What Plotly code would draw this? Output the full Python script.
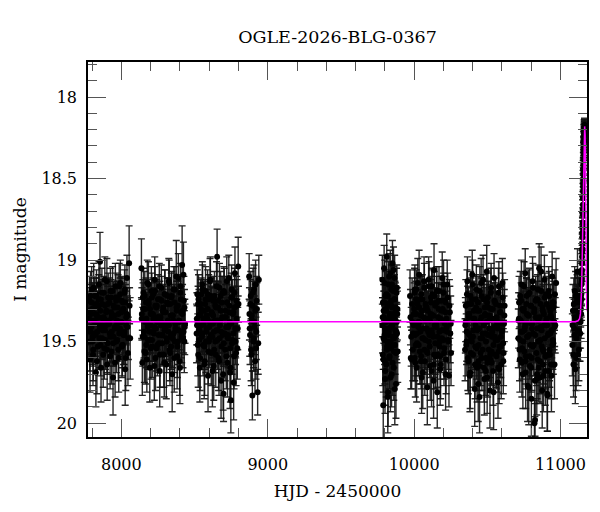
import plotly.graph_objects as go

# ---- photometry, season by season (HJD-2450000, I mag, error) ----
s1_t = [7777, 7782, 7786, 7793, 7797, 7804, 7808, 7815, 7819, 7826, 7830, 7836, 7843, 7847, 7854, 7858, 7865, 7869, 7876, 7881,
        7887, 7892, 7898, 7903, 7910, 7914, 7921, 7925, 7932, 7937, 7943, 7948, 7955, 7959, 7966, 7970, 7977, 7982, 7988, 7993,
        7999, 8004, 8011, 8015, 8022, 8026, 8033, 8038, 8045, 8053, 8060,
        7779, 7784, 7790, 7795, 7800, 7806, 7811, 7817, 7822, 7828, 7833, 7839, 7845, 7850, 7856, 7861, 7867, 7873, 7878, 7884,
        7890, 7895, 7901, 7906, 7912, 7918, 7923, 7929, 7934, 7940, 7946, 7951, 7957, 7963, 7968, 7974, 7979, 7985, 7991, 7996,
        8002, 8007, 8013, 8019, 8024, 8030, 8036, 8042]
s1_m = [19.42, 19.25, 19.61, 19.33, 19.18, 19.47, 19.55, 19.29, 19.38, 19.69, 19.21, 19.44, 19.35, 19.15, 19.01, 19.52, 19.40,
        19.27, 19.58, 19.36, 19.12, 19.49, 19.31, 19.64, 19.23, 19.39, 19.45, 19.19, 19.56, 19.34, 19.72, 19.28, 19.41, 19.16,
        19.50, 19.37, 19.24, 19.60, 19.43, 19.14, 19.32, 19.53, 19.26, 19.46, 19.20, 19.67, 19.35, 19.11, 19.57, 19.02, 19.48,
        19.36, 19.50, 19.22, 19.41, 19.30, 19.58, 19.17, 19.45, 19.33, 19.27, 19.62, 19.39, 19.24, 19.48, 19.31, 19.66, 19.20,
        19.43, 19.35, 19.54, 19.28, 19.40, 19.13, 19.51, 19.37, 19.26, 19.59, 19.32, 19.44, 19.19, 19.47, 19.34, 19.63, 19.23,
        19.40, 19.29, 19.55, 19.16, 19.42, 19.38, 19.25, 19.52, 19.30, 19.46, 19.18, 19.60, 19.33, 19.41]
s1_e = [0.17, 0.15, 0.20, 0.16, 0.14, 0.18, 0.19, 0.15, 0.17, 0.21, 0.15, 0.18, 0.16, 0.14, 0.18, 0.19, 0.17, 0.15, 0.20, 0.16,
        0.14, 0.18, 0.16, 0.22, 0.15, 0.17, 0.18, 0.14, 0.20, 0.16, 0.23, 0.15, 0.17, 0.14, 0.19, 0.16, 0.15, 0.21, 0.18, 0.14,
        0.16, 0.19, 0.15, 0.18, 0.14, 0.22, 0.16, 0.14, 0.20, 0.23, 0.25,
        0.16, 0.18, 0.15, 0.17, 0.16, 0.19, 0.15, 0.18, 0.16, 0.16, 0.20, 0.17, 0.15, 0.18, 0.16, 0.21, 0.15, 0.17, 0.16, 0.19,
        0.16, 0.17, 0.14, 0.19, 0.17, 0.15, 0.20, 0.16, 0.18, 0.15, 0.18, 0.16, 0.21, 0.15, 0.17, 0.16, 0.19, 0.14, 0.17, 0.17,
        0.15, 0.19, 0.16, 0.18, 0.15, 0.20, 0.16, 0.17]
s1c_t = [7780, 7788, 7796, 7802, 7810, 7818, 7824, 7832, 7840, 7846, 7852, 7860, 7868, 7874, 7880, 7888, 7896, 7902, 7908, 7916,
         7924, 7930, 7936, 7944, 7952, 7958, 7964, 7972, 7980, 7986, 7992, 8000, 8008, 8014, 8020, 8028, 8034, 8041, 8048, 8056]
s1c_m = [19.31, 19.44, 19.26, 19.50, 19.37, 19.22, 19.46, 19.34, 19.53, 19.28, 19.41, 19.24, 19.48, 19.36, 19.20, 19.43, 19.32,
         19.55, 19.27, 19.39, 19.47, 19.23, 19.35, 19.51, 19.29, 19.42, 19.25, 19.49, 19.33, 19.45, 19.21, 19.38, 19.52, 19.30,
         19.44, 19.26, 19.40, 19.34, 19.48, 19.28]
s1c_e = [0.12, 0.13, 0.11, 0.14, 0.12, 0.11, 0.13, 0.12, 0.14, 0.11, 0.12, 0.11, 0.13, 0.12, 0.10, 0.13, 0.12, 0.14, 0.11, 0.12,
         0.13, 0.11, 0.12, 0.14, 0.11, 0.13, 0.11, 0.13, 0.12, 0.13, 0.10, 0.12, 0.14, 0.11, 0.13, 0.11, 0.12, 0.12, 0.13, 0.11]

s2_t = [8137, 8143, 8148, 8154, 8160, 8165, 8171, 8177, 8182, 8188, 8194, 8199, 8205, 8211, 8216, 8222, 8228, 8233, 8239, 8245,
        8250, 8256, 8262, 8267, 8273, 8279, 8284, 8290, 8296, 8301, 8307, 8313, 8318, 8324, 8330, 8335, 8341, 8347, 8352, 8358,
        8364, 8369, 8375, 8381, 8386, 8392, 8398, 8403, 8409, 8415, 8421, 8427, 8433,
        8140, 8146, 8151, 8157, 8163, 8168, 8174, 8180, 8185, 8191, 8196, 8202, 8208, 8213, 8219, 8225, 8230, 8236, 8242, 8247,
        8253, 8259, 8264, 8270, 8276, 8281, 8287, 8293, 8298, 8304, 8310, 8315, 8321, 8327, 8332, 8338, 8344, 8349, 8355, 8361,
        8366, 8372, 8378, 8383, 8389, 8395, 8400, 8406, 8412, 8418, 8424, 8430]
s2_m = [19.05, 19.63, 19.30, 19.44, 19.22, 19.57, 19.36, 19.14, 19.49, 19.27, 19.66, 19.40, 19.19, 19.53, 19.33, 19.45, 19.12,
        19.60, 19.29, 19.38, 19.24, 19.51, 19.68, 19.35, 19.17, 19.46, 19.31, 19.58, 19.21, 19.42, 19.64, 19.26, 19.37, 19.13,
        19.55, 19.47, 19.23, 19.70, 19.34, 19.18, 19.50, 19.39, 19.10, 19.59, 19.28, 19.43, 19.62, 19.16, 19.32, 19.03, 19.48,
        19.25, 19.41,
        19.33, 19.47, 19.20, 19.56, 19.38, 19.26, 19.61, 19.41, 19.15, 19.49, 19.30, 19.54, 19.23, 19.44, 19.36, 19.65, 19.19,
        19.42, 19.28, 19.52, 19.35, 19.16, 19.58, 19.40, 19.25, 19.46, 19.32, 19.63, 19.21, 19.39, 19.50, 19.27, 19.44, 19.14,
        19.57, 19.34, 19.22, 19.48, 19.37, 19.60, 19.18, 19.43, 19.29, 19.53, 19.11, 19.38, 19.66, 19.24, 19.45, 19.31, 19.09,
        19.50]
s2_e = [0.18, 0.20, 0.16, 0.17, 0.15, 0.19, 0.16, 0.14, 0.18, 0.15, 0.21, 0.17, 0.15, 0.19, 0.16, 0.17, 0.14, 0.20, 0.15, 0.17,
        0.15, 0.18, 0.22, 0.16, 0.14, 0.18, 0.16, 0.20, 0.15, 0.17, 0.21, 0.15, 0.16, 0.14, 0.19, 0.18, 0.15, 0.23, 0.16, 0.14,
        0.19, 0.17, 0.22, 0.20, 0.15, 0.18, 0.21, 0.14, 0.16, 0.24, 0.18, 0.15, 0.17,
        0.16, 0.18, 0.15, 0.19, 0.17, 0.15, 0.20, 0.17, 0.14, 0.18, 0.16, 0.19, 0.15, 0.18, 0.16, 0.21, 0.15, 0.17, 0.16, 0.19,
        0.16, 0.14, 0.20, 0.17, 0.15, 0.18, 0.16, 0.21, 0.15, 0.17, 0.19, 0.16, 0.18, 0.14, 0.20, 0.16, 0.15, 0.18, 0.17, 0.21,
        0.14, 0.18, 0.16, 0.19, 0.15, 0.17, 0.22, 0.15, 0.18, 0.16, 0.20, 0.19]
s2c_t = [8139, 8147, 8155, 8162, 8170, 8178, 8186, 8193, 8201, 8209, 8217, 8224, 8232, 8240, 8248, 8255, 8263, 8271, 8278, 8286,
         8294, 8302, 8309, 8317, 8325, 8333, 8340, 8348, 8356, 8363, 8371, 8379, 8387, 8394, 8402, 8410, 8417, 8425, 8431, 8435]
s2c_m = [19.36, 19.23, 19.47, 19.30, 19.52, 19.39, 19.25, 19.44, 19.33, 19.49, 19.21, 19.41, 19.28, 19.54, 19.35, 19.46, 19.24,
         19.38, 19.51, 19.29, 19.43, 19.32, 19.48, 19.22, 19.40, 19.27, 19.53, 19.34, 19.45, 19.26, 19.42, 19.31, 19.50, 19.37,
         19.20, 19.47, 19.33, 19.44, 19.29, 19.39]
s2c_e = [0.12, 0.11, 0.13, 0.12, 0.14, 0.12, 0.11, 0.13, 0.12, 0.13, 0.10, 0.12, 0.11, 0.14, 0.12, 0.13, 0.11, 0.12, 0.14, 0.11,
         0.13, 0.12, 0.13, 0.11, 0.12, 0.11, 0.14, 0.12, 0.13, 0.11, 0.12, 0.12, 0.14, 0.12, 0.10, 0.13, 0.12, 0.13, 0.11, 0.12]

s3_t = [8514, 8519, 8525, 8530, 8536, 8541, 8547, 8553, 8558, 8564, 8569, 8575, 8580, 8586, 8592, 8597, 8603, 8608, 8614, 8619,
        8625, 8631, 8636, 8642, 8647, 8654, 8659, 8664, 8670, 8675, 8681, 8686, 8692, 8698, 8703, 8709, 8714, 8720, 8725, 8731,
        8737, 8742, 8748, 8753, 8759, 8764, 8770, 8776, 8781, 8787, 8792, 8798,
        8516, 8522, 8527, 8533, 8538, 8544, 8550, 8555, 8561, 8566, 8572, 8578, 8583, 8589, 8594, 8600, 8606, 8611, 8617, 8622,
        8628, 8633, 8639, 8645, 8650, 8656, 8661, 8667, 8673, 8678, 8684, 8689, 8695, 8700, 8706, 8712, 8717, 8723, 8728, 8734,
        8740, 8745, 8751, 8756, 8762, 8767, 8773, 8779, 8784, 8790]
s3_m = [19.45, 19.21, 19.58, 19.34, 19.66, 19.27, 19.40, 19.15, 19.52, 19.31, 19.62, 19.19, 19.44, 19.36, 19.71, 19.24, 19.48,
        19.12, 19.57, 19.33, 19.39, 19.65, 19.22, 19.50, 19.29, 18.98, 19.43, 19.60, 19.17, 19.37, 19.74, 19.26, 19.46, 19.82,
        19.20, 19.55, 19.35, 19.13, 19.63, 19.41, 19.28, 19.69, 19.86, 19.18, 19.49, 19.32, 19.59, 19.08, 19.42, 19.25, 19.54,
        19.04,
        19.36, 19.52, 19.24, 19.43, 19.60, 19.30, 19.47, 19.18, 19.39, 19.64, 19.27, 19.50, 19.34, 19.21, 19.56, 19.41, 19.13,
        19.46, 19.32, 19.68, 19.25, 19.44, 19.37, 19.58, 19.16, 19.49, 19.29, 19.62, 19.40, 19.22, 19.53, 19.35, 19.70, 19.19,
        19.45, 19.31, 19.59, 19.26, 19.48, 19.11, 19.38, 19.66, 19.23, 19.51, 19.33, 19.75, 19.20, 19.42, 19.57, 19.28]
s3_e = [0.18, 0.15, 0.20, 0.16, 0.21, 0.15, 0.17, 0.14, 0.19, 0.16, 0.21, 0.15, 0.18, 0.16, 0.22, 0.15, 0.18, 0.14, 0.20, 0.16,
        0.17, 0.21, 0.15, 0.19, 0.16, 0.17, 0.18, 0.20, 0.15, 0.17, 0.23, 0.16, 0.18, 0.17, 0.15, 0.19, 0.16, 0.15, 0.21, 0.18,
        0.16, 0.22, 0.20, 0.15, 0.18, 0.16, 0.20, 0.16, 0.18, 0.15, 0.19, 0.18,
        0.16, 0.19, 0.15, 0.17, 0.20, 0.16, 0.18, 0.15, 0.17, 0.21, 0.15, 0.19, 0.16, 0.15, 0.20, 0.17, 0.14, 0.18, 0.16, 0.22,
        0.15, 0.18, 0.16, 0.20, 0.15, 0.18, 0.16, 0.21, 0.17, 0.15, 0.19, 0.16, 0.22, 0.15, 0.18, 0.16, 0.20, 0.15, 0.18, 0.14,
        0.17, 0.21, 0.15, 0.19, 0.16, 0.23, 0.15, 0.17, 0.20, 0.16]
s3c_t = [8517, 8524, 8532, 8539, 8546, 8554, 8561, 8568, 8576, 8583, 8590, 8598, 8605, 8612, 8620, 8627, 8634, 8641, 8649, 8656,
         8663, 8671, 8678, 8685, 8693, 8700, 8707, 8715, 8722, 8729, 8737, 8744, 8751, 8759, 8766, 8773, 8780, 8788, 8795, 8800]
s3c_m = [19.40, 19.27, 19.49, 19.33, 19.21, 19.45, 19.36, 19.53, 19.24, 19.42, 19.30, 19.50, 19.38, 19.22, 19.47, 19.34, 19.55,
         19.28, 19.43, 19.37, 19.25, 19.48, 19.31, 19.44, 19.20, 19.51, 19.35, 19.41, 19.26, 19.46, 19.32, 19.54, 19.39, 19.23,
         19.45, 19.29, 19.50, 19.36, 19.42, 19.27]
s3c_e = [0.12, 0.11, 0.13, 0.12, 0.10, 0.13, 0.12, 0.14, 0.11, 0.13, 0.12, 0.14, 0.12, 0.11, 0.13, 0.12, 0.14, 0.11, 0.13, 0.12,
         0.11, 0.13, 0.12, 0.13, 0.10, 0.14, 0.12, 0.13, 0.11, 0.13, 0.12, 0.14, 0.12, 0.11, 0.13, 0.11, 0.14, 0.12, 0.13, 0.11]

s4_t = [8873, 8877, 8881, 8886, 8890, 8895, 8899, 8904, 8908, 8913, 8917, 8922, 8926, 8931, 8935, 8939,
        8875, 8879, 8884, 8888, 8893, 8897, 8902, 8906, 8911, 8915, 8920, 8924]
s4_m = [19.10, 19.42, 19.27, 19.55, 19.34, 19.83, 19.20, 19.48, 19.38, 19.62, 19.15, 19.44, 19.30, 19.81, 19.51, 19.12,
        19.33, 19.46, 19.22, 19.58, 19.37, 19.28, 19.50, 19.18, 19.41, 19.31, 19.54, 19.25]
s4_e = [0.14, 0.17, 0.15, 0.19, 0.16, 0.15, 0.15, 0.18, 0.16, 0.20, 0.15, 0.17, 0.16, 0.14, 0.19, 0.15,
        0.16, 0.18, 0.15, 0.19, 0.16, 0.15, 0.18, 0.15, 0.17, 0.16, 0.19, 0.15]

s5_t = [9783, 9786, 9789, 9792, 9795, 9798, 9801, 9804, 9807, 9810, 9813, 9816, 9819, 9822, 9825, 9828, 9831, 9834, 9837, 9840,
        9843, 9846, 9849, 9852, 9855, 9858, 9861, 9864, 9867, 9870, 9873, 9876, 9879, 9882, 9885, 9888,
        9784, 9787, 9790, 9793, 9796, 9799, 9802, 9805, 9808, 9811, 9814, 9817, 9820, 9823, 9826, 9829, 9832, 9835, 9838, 9841,
        9844, 9847, 9850, 9853, 9856, 9859, 9862, 9865, 9868, 9871, 9874, 9877, 9880, 9883]
s5_m = [19.12, 19.58, 19.89, 19.31, 19.05, 19.46, 19.73, 19.22, 19.38, 19.64, 18.98, 19.50, 19.28, 19.81, 19.15, 19.42, 19.60,
        19.34, 19.08, 19.54, 19.25, 19.70, 19.40, 19.02, 19.47, 19.19, 19.66, 19.36, 19.11, 19.52, 19.29, 19.76, 19.44, 19.17,
        19.33, 19.56,
        19.40, 19.26, 19.61, 19.35, 19.49, 19.14, 19.68, 19.30, 19.44, 19.21, 19.55, 19.37, 19.84, 19.27, 19.46, 19.10, 19.59,
        19.33, 19.72, 19.41, 19.18, 19.52, 19.29, 19.63, 19.38, 19.06, 19.48, 19.24, 19.79, 19.43, 19.32, 19.57, 19.20, 19.45]
s5_e = [0.15, 0.19, 0.22, 0.16, 0.14, 0.18, 0.21, 0.15, 0.16, 0.20, 0.14, 0.18, 0.16, 0.21, 0.14, 0.17, 0.19, 0.16, 0.14, 0.18,
        0.15, 0.20, 0.17, 0.14, 0.18, 0.15, 0.20, 0.16, 0.14, 0.18, 0.15, 0.21, 0.17, 0.14, 0.16, 0.19,
        0.17, 0.15, 0.20, 0.16, 0.18, 0.14, 0.21, 0.16, 0.17, 0.15, 0.19, 0.16, 0.22, 0.15, 0.18, 0.14, 0.20, 0.16, 0.21, 0.17,
        0.15, 0.19, 0.16, 0.20, 0.17, 0.14, 0.18, 0.15, 0.22, 0.17, 0.16, 0.19, 0.15, 0.18]
s5c_t = [9785, 9791, 9797, 9803, 9809, 9815, 9821, 9827, 9833, 9839, 9845, 9851, 9857, 9863, 9869, 9875, 9881, 9886, 9800, 9848]
s5c_m = [19.35, 19.48, 19.26, 19.42, 19.31, 19.53, 19.22, 19.44, 19.37, 19.50, 19.28, 19.40, 19.33, 19.56, 19.24, 19.46, 19.38,
         19.30, 19.62, 19.15]
s5c_e = [0.12, 0.13, 0.11, 0.13, 0.12, 0.14, 0.11, 0.13, 0.12, 0.14, 0.11, 0.12, 0.12, 0.14, 0.11, 0.13, 0.12, 0.11, 0.14, 0.12]

s6_t = [9972, 9977, 9983, 9988, 9994, 10000, 10005, 10011, 10017, 10022, 10028, 10034, 10039, 10045, 10051, 10056, 10062,
        10068, 10073, 10079, 10085, 10090, 10096, 10102, 10107, 10113, 10119, 10124, 10130, 10136, 10141, 10147, 10153, 10158,
        10164, 10170, 10175, 10181, 10187, 10192, 10198, 10204, 10209, 10215, 10221, 10226, 10232, 10238, 10244, 10250,
        9975, 9980, 9986, 9991, 9997, 10003, 10008, 10014, 10019, 10025, 10031, 10036, 10042, 10048, 10053, 10059, 10065,
        10070, 10076, 10082, 10087, 10093, 10099, 10104, 10110, 10116, 10121, 10127, 10133, 10138, 10144, 10150, 10155, 10161,
        10167, 10172, 10178, 10184, 10189, 10195, 10201, 10206, 10212, 10218, 10223, 10229, 10235, 10241, 10247, 10252]
s6_m = [19.22, 19.60, 19.61, 19.38, 19.45, 19.30, 19.18, 19.52, 19.66, 19.27, 19.41, 19.09, 19.56, 19.34, 19.72, 19.24, 19.48,
        19.13, 19.62, 19.37, 19.29, 19.78, 19.44, 19.16, 19.53, 19.33, 19.68, 19.21, 19.47, 19.06, 19.40, 19.59, 19.26, 19.81,
        19.35, 19.19, 19.50, 19.64, 19.31, 19.11, 19.43, 19.57, 19.25, 19.70, 19.36, 19.15, 19.49, 19.71, 19.32, 19.39,
        19.35, 19.47, 19.27, 19.55, 19.40, 19.20, 19.63, 19.33, 19.45, 19.14, 19.52, 19.38, 19.24, 19.59, 19.31, 19.69, 19.42,
        19.17, 19.49, 19.29, 19.56, 19.36, 19.12, 19.46, 19.65, 19.26, 19.43, 19.34, 19.74, 19.22, 19.51, 19.39, 19.19, 19.58,
        19.30, 19.44, 19.67, 19.25, 19.48, 19.37, 19.15, 19.54, 19.32, 19.61, 19.41, 19.23, 19.50, 19.28, 19.45, 19.57]
s6_e = [0.16, 0.19, 0.18, 0.17, 0.18, 0.16, 0.15, 0.19, 0.21, 0.16, 0.17, 0.15, 0.20, 0.16, 0.22, 0.15, 0.18, 0.15, 0.21, 0.17,
        0.16, 0.23, 0.18, 0.15, 0.19, 0.16, 0.22, 0.15, 0.18, 0.16, 0.17, 0.20, 0.16, 0.22, 0.17, 0.15, 0.19, 0.21, 0.16, 0.16,
        0.18, 0.20, 0.15, 0.22, 0.17, 0.15, 0.18, 0.19, 0.16, 0.17,
        0.17, 0.18, 0.16, 0.19, 0.17, 0.15, 0.21, 0.16, 0.18, 0.15, 0.19, 0.17, 0.15, 0.20, 0.16, 0.22, 0.17, 0.15, 0.18, 0.16,
        0.20, 0.17, 0.14, 0.18, 0.21, 0.16, 0.18, 0.16, 0.23, 0.15, 0.19, 0.17, 0.15, 0.20, 0.16, 0.18, 0.22, 0.15, 0.18, 0.17,
        0.15, 0.19, 0.16, 0.21, 0.17, 0.15, 0.19, 0.16, 0.18, 0.20]
s6c_t = [9998, 10006, 10013, 10020, 10027, 10035, 10042, 10049, 10057, 10064, 10071, 10078, 10086, 10093, 10100, 10108, 10115,
         10122, 10129, 10137, 10144, 10151, 10159, 10166, 10173, 10180, 10188, 10195, 10202, 10210, 10217, 10224, 10004, 10047,
         10091, 10134, 10178, 10015, 10120, 10200]
s6c_m = [19.33, 19.46, 19.24, 19.51, 19.38, 19.29, 19.44, 19.21, 19.48, 19.35, 19.55, 19.27, 19.42, 19.31, 19.50, 19.37, 19.23,
         19.45, 19.34, 19.58, 19.28, 19.41, 19.47, 19.25, 19.53, 19.36, 19.43, 19.30, 19.49, 19.39, 19.26, 19.44, 19.60, 19.62,
         19.57, 19.64, 19.59, 19.18, 19.16, 19.20]
s6c_e = [0.12, 0.13, 0.11, 0.14, 0.12, 0.11, 0.13, 0.11, 0.13, 0.12, 0.14, 0.11, 0.13, 0.12, 0.14, 0.12, 0.11, 0.13, 0.12, 0.14,
         0.11, 0.12, 0.13, 0.11, 0.14, 0.12, 0.13, 0.12, 0.13, 0.12, 0.11, 0.13, 0.14, 0.14, 0.13, 0.15, 0.14, 0.12, 0.11, 0.12]

s7_t = [10348, 10353, 10359, 10364, 10370, 10375, 10381, 10386, 10392, 10397, 10403, 10408, 10414, 10419, 10425, 10430, 10436,
        10441, 10447, 10452, 10458, 10463, 10469, 10474, 10480, 10485, 10491, 10496, 10502, 10507, 10513, 10518, 10524, 10529,
        10535, 10540, 10546, 10551, 10557, 10562, 10568, 10573, 10579, 10584, 10590, 10595, 10601, 10606, 10611, 10616,
        10350, 10356, 10361, 10367, 10372, 10378, 10383, 10389, 10394, 10400, 10405, 10411, 10416, 10422, 10427, 10433, 10438,
        10444, 10449, 10455, 10460, 10466, 10471, 10477, 10482, 10488, 10493, 10499, 10504, 10510, 10515, 10521, 10526, 10532,
        10537, 10543, 10548, 10554, 10559, 10565, 10570, 10576, 10581, 10587, 10592, 10598, 10603, 10609, 10614, 10618]
s7_m = [19.55, 19.28, 19.44, 19.13, 19.62, 19.35, 19.71, 19.22, 19.48, 19.09, 19.58, 19.31, 19.79, 19.40, 19.18, 19.66, 19.26,
        19.52, 19.84, 19.37, 19.14, 19.60, 19.45, 19.24, 19.73, 19.33, 19.50, 19.07, 19.63, 19.29, 19.42, 19.80, 19.20, 19.56,
        19.36, 19.68, 19.11, 19.47, 19.27, 19.59, 19.39, 19.75, 19.16, 19.53, 19.32, 19.64, 19.43, 19.23, 19.57, 19.34,
        19.40, 19.52, 19.21, 19.60, 19.33, 19.46, 19.69, 19.27, 19.50, 19.15, 19.43, 19.36, 19.64, 19.24, 19.54, 19.31, 19.76,
        19.42, 19.19, 19.57, 19.35, 19.48, 19.12, 19.66, 19.29, 19.45, 19.38, 19.72, 19.23, 19.55, 19.34, 19.61, 19.17, 19.47,
        19.30, 19.81, 19.41, 19.26, 19.58, 19.37, 19.49, 19.20, 19.67, 19.32, 19.53, 19.44, 19.14, 19.62, 19.39, 19.28]
s7_e = [0.19, 0.16, 0.18, 0.15, 0.20, 0.16, 0.22, 0.15, 0.18, 0.15, 0.20, 0.16, 0.23, 0.17, 0.15, 0.21, 0.16, 0.19, 0.22, 0.17,
        0.15, 0.20, 0.18, 0.15, 0.22, 0.16, 0.19, 0.16, 0.21, 0.16, 0.17, 0.23, 0.15, 0.20, 0.17, 0.21, 0.15, 0.18, 0.16, 0.20,
        0.17, 0.22, 0.15, 0.19, 0.16, 0.21, 0.18, 0.15, 0.20, 0.16,
        0.17, 0.19, 0.15, 0.20, 0.16, 0.18, 0.22, 0.16, 0.19, 0.15, 0.17, 0.16, 0.21, 0.15, 0.19, 0.16, 0.23, 0.17, 0.15, 0.20,
        0.16, 0.18, 0.15, 0.21, 0.16, 0.18, 0.17, 0.22, 0.15, 0.19, 0.16, 0.20, 0.15, 0.18, 0.16, 0.23, 0.17, 0.15, 0.20, 0.17,
        0.18, 0.15, 0.21, 0.16, 0.19, 0.17, 0.15, 0.20, 0.17, 0.16]
s7c_t = [10352, 10358, 10366, 10373, 10380, 10388, 10395, 10402, 10410, 10417, 10424, 10432, 10439, 10446, 10454, 10461, 10468,
         10476, 10483, 10490, 10498, 10505, 10512, 10520, 10527, 10534, 10542, 10549, 10556, 10564, 10571, 10578, 10586, 10593,
         10600, 10608, 10445, 10490, 10530, 10575]
s7c_m = [19.38, 19.50, 19.27, 19.45, 19.33, 19.57, 19.24, 19.47, 19.36, 19.53, 19.29, 19.43, 19.62, 19.31, 19.48, 19.22, 19.55,
         19.40, 19.34, 19.60, 19.26, 19.46, 19.37, 19.58, 19.30, 19.44, 19.52, 19.25, 19.49, 19.35, 19.42, 19.56, 19.28, 19.47,
         19.39, 19.51, 19.65, 19.68, 19.63, 19.66]
s7c_e = [0.12, 0.14, 0.11, 0.13, 0.12, 0.14, 0.11, 0.13, 0.12, 0.14, 0.11, 0.13, 0.14, 0.12, 0.13, 0.11, 0.14, 0.12, 0.12, 0.14,
         0.11, 0.13, 0.12, 0.14, 0.11, 0.13, 0.14, 0.11, 0.13, 0.12, 0.13, 0.14, 0.11, 0.13, 0.12, 0.14, 0.15, 0.15, 0.14, 0.15]

s8_t = [10712, 10717, 10722, 10728, 10733, 10738, 10743, 10749, 10754, 10759, 10764, 10770, 10775, 10780, 10785, 10791, 10796,
        10801, 10806, 10812, 10817, 10822, 10826, 10832, 10838, 10843, 10848, 10854, 10859, 10864, 10869, 10875, 10880, 10885,
        10890, 10896, 10901, 10906, 10911, 10917, 10922, 10927, 10932, 10938, 10943, 10948, 10953, 10959, 10964, 10970,
        10714, 10720, 10725, 10730, 10736, 10741, 10746, 10751, 10757, 10762, 10767, 10772, 10778, 10783, 10788, 10793, 10799,
        10804, 10809, 10814, 10820, 10825, 10830, 10835, 10841, 10846, 10851, 10856, 10862, 10867, 10872, 10877, 10883, 10888,
        10893, 10898, 10904, 10909, 10914, 10919, 10925, 10930, 10935, 10940, 10946, 10951, 10956, 10962]
s8_m = [19.48, 19.26, 19.61, 19.37, 19.15, 19.54, 19.70, 19.30, 19.43, 19.08, 19.59, 19.33, 19.77, 19.21, 19.46, 19.65, 19.28,
        19.85, 19.39, 19.17, 19.52, 20.00, 19.98, 19.35, 19.73, 19.24, 19.50, 19.05, 19.62, 19.41, 19.19, 19.80, 19.31, 19.56,
        19.12, 19.68, 19.38, 19.27, 19.83, 19.45, 19.22, 19.58, 19.34, 19.71, 19.10, 19.49, 19.29, 19.64, 19.40, 19.14,
        19.37, 19.55, 19.22, 19.44, 19.63, 19.30, 19.50, 19.16, 19.41, 19.69, 19.27, 19.47, 19.34, 19.78, 19.20, 19.52, 19.39,
        19.60, 19.13, 19.45, 19.32, 19.74, 19.25, 19.57, 19.42, 19.18, 19.66, 19.35, 19.49, 19.07, 19.53, 19.29, 19.71, 19.40,
        19.23, 19.59, 19.36, 19.82, 19.46, 19.19, 19.55, 19.31, 19.64, 19.43, 19.26, 19.51, 19.38, 19.21]
s8_e = [0.18, 0.16, 0.20, 0.17, 0.15, 0.19, 0.21, 0.16, 0.18, 0.15, 0.20, 0.16, 0.22, 0.15, 0.18, 0.21, 0.16, 0.23, 0.17, 0.15,
        0.19, 0.14, 0.10, 0.17, 0.22, 0.15, 0.19, 0.15, 0.20, 0.17, 0.15, 0.23, 0.16, 0.20, 0.15, 0.21, 0.17, 0.16, 0.22, 0.18,
        0.15, 0.20, 0.16, 0.22, 0.15, 0.18, 0.16, 0.21, 0.17, 0.15,
        0.17, 0.19, 0.15, 0.18, 0.21, 0.16, 0.19, 0.15, 0.17, 0.22, 0.16, 0.18, 0.16, 0.23, 0.15, 0.19, 0.17, 0.20, 0.15, 0.18,
        0.16, 0.22, 0.15, 0.20, 0.17, 0.15, 0.21, 0.16, 0.18, 0.15, 0.19, 0.16, 0.22, 0.17, 0.15, 0.20, 0.16, 0.23, 0.18, 0.15,
        0.19, 0.16, 0.21, 0.17, 0.15, 0.19, 0.17, 0.15]
s8c_t = [10716, 10723, 10731, 10739, 10746, 10753, 10761, 10768, 10776, 10783, 10790, 10798, 10805, 10812, 10820, 10827, 10834,
         10842, 10849, 10857, 10864, 10871, 10879, 10886, 10893, 10901, 10908, 10915, 10923, 10930, 10937, 10945, 10952, 10960,
         10800, 10840, 10880, 10920, 10760, 10860]
s8c_m = [19.36, 19.49, 19.25, 19.44, 19.31, 19.56, 19.39, 19.22, 19.47, 19.34, 19.59, 19.28, 19.42, 19.53, 19.30, 19.46, 19.24,
         19.61, 19.37, 19.50, 19.27, 19.43, 19.55, 19.33, 19.48, 19.21, 19.40, 19.58, 19.29, 19.45, 19.35, 19.52, 19.26, 19.41,
         19.66, 19.70, 19.64, 19.68, 19.62, 19.72]
s8c_e = [0.12, 0.13, 0.11, 0.13, 0.12, 0.14, 0.12, 0.11, 0.13, 0.12, 0.14, 0.11, 0.13, 0.14, 0.12, 0.13, 0.11, 0.14, 0.12, 0.14,
         0.11, 0.13, 0.14, 0.12, 0.13, 0.11, 0.12, 0.14, 0.11, 0.13, 0.12, 0.14, 0.11, 0.12, 0.15, 0.15, 0.14, 0.15, 0.14, 0.16]

s9_t = [11081, 11085, 11089, 11093, 11097, 11101, 11105, 11109, 11113, 11116, 11120, 11124, 11128, 11132,
        11083, 11087, 11091, 11095, 11099, 11103, 11107, 11111, 11118, 11122, 11126, 11130]
s9_m = [19.52, 19.31, 19.64, 19.42, 19.19, 19.67, 19.36, 19.48, 19.25, 19.07, 19.58, 19.33, 19.44, 19.21,
        19.40, 19.58, 19.27, 19.46, 19.35, 19.22, 19.60, 19.31, 19.43, 19.26, 19.55, 19.37]
s9_e = [0.19, 0.16, 0.20, 0.18, 0.15, 0.21, 0.17, 0.18, 0.16, 0.14, 0.19, 0.17, 0.18, 0.15,
        0.17, 0.19, 0.16, 0.18, 0.17, 0.15, 0.20, 0.16, 0.18, 0.15, 0.19, 0.17]

rise_t = [11134, 11136, 11137, 11139, 11140, 11141, 11143, 11144, 11145, 11146, 11147, 11148, 11149, 11150, 11151,
          11152, 11153, 11154, 11155, 11156, 11157, 11158, 11159, 11160, 11161, 11162, 11163, 11164, 11165, 11166,
          11138, 11142, 11144, 11146, 11148, 11150, 11152, 11154, 11156, 11158, 11160, 11162, 11164, 11166,
          11149, 11151, 11153, 11155, 11157, 11159, 11161, 11163, 11150, 11152, 11154, 11156, 11158, 11160, 11162, 11164]
rise_m = [19.45, 19.22, 19.38, 19.30, 19.20, 19.33, 19.15, 19.24, 19.08, 19.12, 18.98, 19.02, 18.90, 18.86, 18.80,
          18.72, 18.66, 18.58, 18.50, 18.44, 18.38, 18.31, 18.27, 18.24, 18.21, 18.20, 18.19, 18.18, 18.19, 18.18,
          19.26, 19.21, 19.14, 19.06, 18.95, 18.83, 18.69, 18.55, 18.41, 18.30, 18.22, 18.19, 18.17, 18.20,
          18.93, 18.77, 18.62, 18.47, 18.35, 18.28, 18.23, 18.21, 18.84, 18.70, 18.53, 18.45, 18.33, 18.26, 18.22, 18.19]
rise_e = [0.17, 0.15, 0.16, 0.15, 0.14, 0.15, 0.13, 0.13, 0.12, 0.12, 0.11, 0.11, 0.10, 0.10, 0.09,
          0.09, 0.08, 0.08, 0.07, 0.07, 0.06, 0.06, 0.06, 0.05, 0.05, 0.05, 0.05, 0.04, 0.04, 0.04,
          0.15, 0.14, 0.13, 0.12, 0.11, 0.10, 0.09, 0.08, 0.07, 0.06, 0.05, 0.05, 0.04, 0.04,
          0.10, 0.09, 0.09, 0.08, 0.07, 0.06, 0.05, 0.05, 0.10, 0.09, 0.08, 0.07, 0.06, 0.05, 0.05, 0.04]

# ---- fitted model curve ----
model_t = [7700, 11100, 11120, 11130, 11136, 11140, 11144, 11147, 11150, 11153, 11156, 11159, 11162, 11165, 11168,
           11171, 11174, 11177, 11180, 11200]
model_m = [19.378, 19.378, 19.372, 19.36, 19.33, 19.28, 19.18, 19.05, 18.88, 18.65, 18.42, 18.26, 18.19, 18.18, 18.23,
           18.40, 18.75, 19.15, 19.30, 19.36]

# ---- axes ----
x_range = [7772, 11181]
y_range = [20.085, 17.785]
x_ticks = [8000, 9000, 10000, 11000]
x_ticktext = ["8000", "9000", "10000", "11000"]
y_ticks = [18, 18.5, 19, 19.5, 20]
y_ticktext = ["18", "18.5", "19", "19.5", "20"]
title_text = "OGLE-2026-BLG-0367"
x_title = "HJD - 2450000"
y_title = "I magnitude"

seasons = [(s1_t, s1_m, s1_e), (s1c_t, s1c_m, s1c_e), (s2_t, s2_m, s2_e), (s2c_t, s2c_m, s2c_e),
           (s3_t, s3_m, s3_e), (s3c_t, s3c_m, s3c_e), (s4_t, s4_m, s4_e), (s5_t, s5_m, s5_e), (s5c_t, s5c_m, s5c_e),
           (s6_t, s6_m, s6_e), (s6c_t, s6c_m, s6c_e), (s7_t, s7_m, s7_e), (s7c_t, s7c_m, s7c_e),
           (s8_t, s8_m, s8_e), (s8c_t, s8c_m, s8c_e), (s9_t, s9_m, s9_e), (rise_t, rise_m, rise_e)]
hjd, mag, err = [], [], []
for t, m, e in seasons:
    n = min(len(t), len(m), len(e))
    hjd += t[:n]
    mag += m[:n]
    err += e[:n]

FONT = "DejaVu Serif"
W, H = 592, 504  # page body has an 8px margin inside the 600x512 window
fig = go.Figure()
fig.add_trace(go.Scatter(
    x=hjd, y=mag, mode="markers",
    marker=dict(color="black", size=6),
    error_y=dict(type="data", array=err, visible=True, color="rgba(15,15,15,0.9)", thickness=1.4, width=3.5),
    showlegend=False, hoverinfo="skip"))
fig.add_trace(go.Scatter(
    x=model_t, y=model_m, mode="lines",
    line=dict(color="#ff00ff", width=1.5),
    showlegend=False, hoverinfo="skip"))

axis_common = dict(
    showgrid=False, zeroline=False, showline=True, linecolor="black", linewidth=1.5, mirror="allticks",
    ticks="inside", ticklen=18, tickwidth=1, tickcolor="#555", automargin=False,
    tickfont=dict(family=FONT, size=16, color="black"),
)
fig.update_layout(
    width=W, height=H,
    margin=dict(l=80, r=13, t=54, b=75),
    paper_bgcolor="white", plot_bgcolor="white",
    title=dict(text=title_text, x=0.5, xref="paper", y=1 - 29 / H, yref="container", yanchor="middle",
               font=dict(family=FONT, size=17.5, color="black")),
    xaxis=dict(range=x_range, tickvals=x_ticks, ticktext=x_ticktext, ticklabelstandoff=12,
               minor=dict(dtick=200, tick0=0, ticks="inside", ticklen=9, tickcolor="#555", tickwidth=1),
               title=dict(text=x_title, font=dict(family=FONT, size=17, color="black"), standoff=12),
               **axis_common),
    yaxis=dict(range=y_range, tickvals=y_ticks, ticktext=y_ticktext, ticklabelstandoff=6,
               minor=dict(dtick=0.1, tick0=0, ticks="inside", ticklen=9, tickcolor="#555", tickwidth=1),
               title=dict(text=y_title, font=dict(family=FONT, size=17, color="black"), standoff=10),
               **axis_common),
)
fig.write_html("out.html")
